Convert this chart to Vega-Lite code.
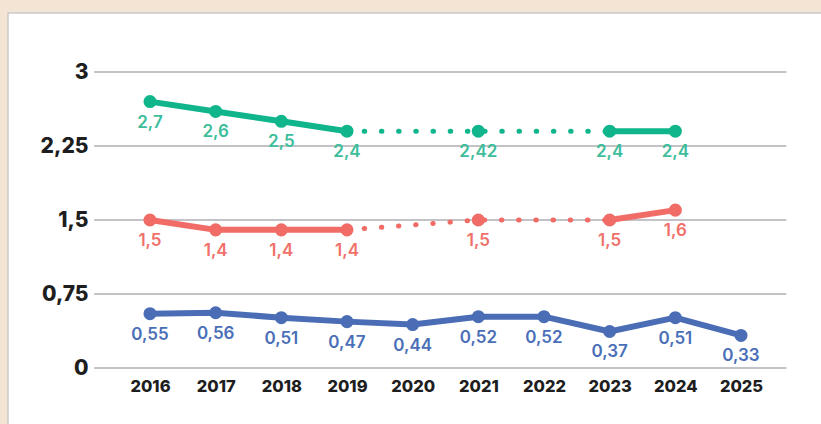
{
  "$schema": "https://vega.github.io/schema/vega-lite/v6.json",
  "width": 814,
  "height": 412,
  "autosize": {"type": "none"},
  "padding": {"left": 8, "top": 13, "right": 0, "bottom": 0},
  "background": "#f3e4d4",
  "config": {
    "view": {"fill": "#ffffff", "stroke": "#cbc9c9", "strokeWidth": 1.5},
    "font": "Inter"
  },
  "datasets": {
    "ticklines": [{"tick": 0}, {"tick": 0.75}, {"tick": 1.5}, {"tick": 2.25}, {"tick": 3}],
    "lines": [
      {"series": "verte", "seg": "v1", "style": "solid", "year": 2016, "value": 2.7},
      {"series": "verte", "seg": "v1", "style": "solid", "year": 2017, "value": 2.6},
      {"series": "verte", "seg": "v1", "style": "solid", "year": 2018, "value": 2.5},
      {"series": "verte", "seg": "v1", "style": "solid", "year": 2019, "value": 2.4},
      {"series": "verte", "seg": "v2", "style": "dotted", "year": 2019, "value": 2.4},
      {"series": "verte", "seg": "v2", "style": "dotted", "year": 2021, "value": 2.4},
      {"series": "verte", "seg": "v2", "style": "dotted", "year": 2023, "value": 2.4},
      {"series": "verte", "seg": "v3", "style": "solid", "year": 2023, "value": 2.4},
      {"series": "verte", "seg": "v3", "style": "solid", "year": 2024, "value": 2.4},
      {"series": "rouge", "seg": "r1", "style": "solid", "year": 2016, "value": 1.5},
      {"series": "rouge", "seg": "r1", "style": "solid", "year": 2017, "value": 1.4},
      {"series": "rouge", "seg": "r1", "style": "solid", "year": 2018, "value": 1.4},
      {"series": "rouge", "seg": "r1", "style": "solid", "year": 2019, "value": 1.4},
      {"series": "rouge", "seg": "r2", "style": "dotted", "year": 2019, "value": 1.4},
      {"series": "rouge", "seg": "r2", "style": "dotted", "year": 2021, "value": 1.5},
      {"series": "rouge", "seg": "r2", "style": "dotted", "year": 2023, "value": 1.5},
      {"series": "rouge", "seg": "r3", "style": "solid", "year": 2023, "value": 1.5},
      {"series": "rouge", "seg": "r3", "style": "solid", "year": 2024, "value": 1.6},
      {"series": "bleue", "seg": "b1", "style": "solid", "year": 2016, "value": 0.55},
      {"series": "bleue", "seg": "b1", "style": "solid", "year": 2017, "value": 0.56},
      {"series": "bleue", "seg": "b1", "style": "solid", "year": 2018, "value": 0.51},
      {"series": "bleue", "seg": "b1", "style": "solid", "year": 2019, "value": 0.47},
      {"series": "bleue", "seg": "b1", "style": "solid", "year": 2020, "value": 0.44},
      {"series": "bleue", "seg": "b1", "style": "solid", "year": 2021, "value": 0.52},
      {"series": "bleue", "seg": "b1", "style": "solid", "year": 2022, "value": 0.52},
      {"series": "bleue", "seg": "b1", "style": "solid", "year": 2023, "value": 0.37},
      {"series": "bleue", "seg": "b1", "style": "solid", "year": 2024, "value": 0.51},
      {"series": "bleue", "seg": "b1", "style": "solid", "year": 2025, "value": 0.33}
    ],
    "points": [
      {"series": "verte", "year": 2016, "value": 2.7, "label": "2,7"},
      {"series": "verte", "year": 2017, "value": 2.6, "label": "2,6"},
      {"series": "verte", "year": 2018, "value": 2.5, "label": "2,5"},
      {"series": "verte", "year": 2019, "value": 2.4, "label": "2,4"},
      {"series": "verte", "year": 2021, "value": 2.4, "label": "2,42"},
      {"series": "verte", "year": 2023, "value": 2.4, "label": "2,4"},
      {"series": "verte", "year": 2024, "value": 2.4, "label": "2,4"},
      {"series": "rouge", "year": 2016, "value": 1.5, "label": "1,5"},
      {"series": "rouge", "year": 2017, "value": 1.4, "label": "1,4"},
      {"series": "rouge", "year": 2018, "value": 1.4, "label": "1,4"},
      {"series": "rouge", "year": 2019, "value": 1.4, "label": "1,4"},
      {"series": "rouge", "year": 2021, "value": 1.5, "label": "1,5"},
      {"series": "rouge", "year": 2023, "value": 1.5, "label": "1,5"},
      {"series": "rouge", "year": 2024, "value": 1.6, "label": "1,6"},
      {"series": "bleue", "year": 2016, "value": 0.55, "label": "0,55"},
      {"series": "bleue", "year": 2017, "value": 0.56, "label": "0,56"},
      {"series": "bleue", "year": 2018, "value": 0.51, "label": "0,51"},
      {"series": "bleue", "year": 2019, "value": 0.47, "label": "0,47"},
      {"series": "bleue", "year": 2020, "value": 0.44, "label": "0,44"},
      {"series": "bleue", "year": 2021, "value": 0.52, "label": "0,52"},
      {"series": "bleue", "year": 2022, "value": 0.52, "label": "0,52"},
      {"series": "bleue", "year": 2023, "value": 0.37, "label": "0,37"},
      {"series": "bleue", "year": 2024, "value": 0.51, "label": "0,51"},
      {"series": "bleue", "year": 2025, "value": 0.33, "label": "0,33"}
    ]
  },
  "layer": [
    {
      "data": {"name": "ticklines"},
      "mark": {"type": "rule", "stroke": "#c3c2c7", "strokeWidth": 2},
      "encoding": {
        "y": {
          "field": "tick",
          "type": "quantitative",
          "scale": {"domain": [-0.5777, 3.598], "nice": false, "zero": false},
          "axis": {
            "values": [0, 0.75, 1.5, 2.25, 3],
            "labelExpr": "replace(format(datum.value, '~g'), '.', ',')",
            "title": null,
            "ticks": false,
            "domain": false,
            "grid": false,
            "labelFont": "Inter",
            "labelFontWeight": 800,
            "labelFontSize": 21,
            "labelColor": "#1e1e1e",
            "labelPadding": 0,
            "offset": -80
          }
        },
        "x": {
          "datum": 2015.15,
          "type": "quantitative",
          "scale": {"domain": [2013.8376, 2026.2335], "nice": false, "zero": false},
          "axis": {
            "values": [2016, 2017, 2018, 2019, 2020, 2021, 2022, 2023, 2024, 2025],
            "format": "d",
            "title": null,
            "ticks": false,
            "domain": false,
            "grid": false,
            "labelFont": "Inter",
            "labelFontWeight": 800,
            "labelFontSize": 16.5,
            "labelColor": "#1e1e1e",
            "labelPadding": 0,
            "labelBaseline": "middle",
            "labelFlush": false,
            "labelOverlap": false,
            "offset": -39
          }
        },
        "x2": {"datum": 2025.69}
      }
    },
    {
      "encoding": {
        "x": {
          "field": "year",
          "type": "quantitative",
          "scale": {"domain": [2013.8376, 2026.2335], "nice": false, "zero": false},
          "axis": {
            "values": [2016, 2017, 2018, 2019, 2020, 2021, 2022, 2023, 2024, 2025],
            "format": "d",
            "title": null,
            "ticks": false,
            "domain": false,
            "grid": false,
            "labelFont": "Inter",
            "labelFontWeight": 800,
            "labelFontSize": 16.5,
            "labelColor": "#1e1e1e",
            "labelPadding": 0,
            "labelBaseline": "middle",
            "labelFlush": false,
            "labelOverlap": false,
            "offset": -39
          }
        },
        "y": {
          "field": "value",
          "type": "quantitative",
          "scale": {"domain": [-0.5777, 3.598], "nice": false, "zero": false},
          "axis": {
            "values": [0, 0.75, 1.5, 2.25, 3],
            "labelExpr": "replace(format(datum.value, '~g'), '.', ',')",
            "title": null,
            "ticks": false,
            "domain": false,
            "grid": false,
            "labelFont": "Inter",
            "labelFontWeight": 800,
            "labelFontSize": 21,
            "labelColor": "#1e1e1e",
            "labelPadding": 0,
            "offset": -80
          }
        }
      },
      "layer": [
        {
          "data": {"name": "lines"},
          "transform": [{"filter": "datum.style === 'solid'"}],
          "mark": {"type": "line", "strokeWidth": 6, "strokeJoin": "round", "strokeCap": "round"},
          "encoding": {
            "detail": {"field": "seg"},
            "color": {
              "field": "series",
              "type": "nominal",
              "scale": {"domain": ["verte", "rouge", "bleue"], "range": ["#10b58b", "#f16c67", "#4a6db6"]},
              "legend": null
            }
          }
        },
        {
          "data": {"name": "lines"},
          "transform": [{"filter": "datum.style === 'dotted'"}],
          "mark": {"type": "line", "strokeWidth": 5, "strokeCap": "round", "strokeDash": [0.5, 16.7]},
          "encoding": {
            "detail": {"field": "seg"},
            "color": {
              "field": "series",
              "type": "nominal",
              "scale": {"domain": ["verte", "rouge", "bleue"], "range": ["#10b58b", "#f16c67", "#4a6db6"]},
              "legend": null
            }
          }
        },
        {
          "data": {"name": "points"},
          "mark": {"type": "circle", "size": 170, "opacity": 1},
          "encoding": {
            "color": {
              "field": "series",
              "type": "nominal",
              "scale": {"domain": ["verte", "rouge", "bleue"], "range": ["#10b58b", "#f16c67", "#4a6db6"]},
              "legend": null
            }
          }
        },
        {
          "data": {"name": "points"},
          "mark": {"type": "text", "dy": 21, "font": "Inter", "fontWeight": 600, "fontSize": 17, "baseline": "middle", "align": "center"},
          "encoding": {
            "text": {"field": "label"},
            "fill": {
              "field": "series",
              "type": "nominal",
              "scale": {"domain": ["verte", "rouge", "bleue"], "range": ["#3dbd9b", "#f0706a", "#4a6fb8"]},
              "legend": null
            }
          }
        }
      ]
    }
  ]
}
